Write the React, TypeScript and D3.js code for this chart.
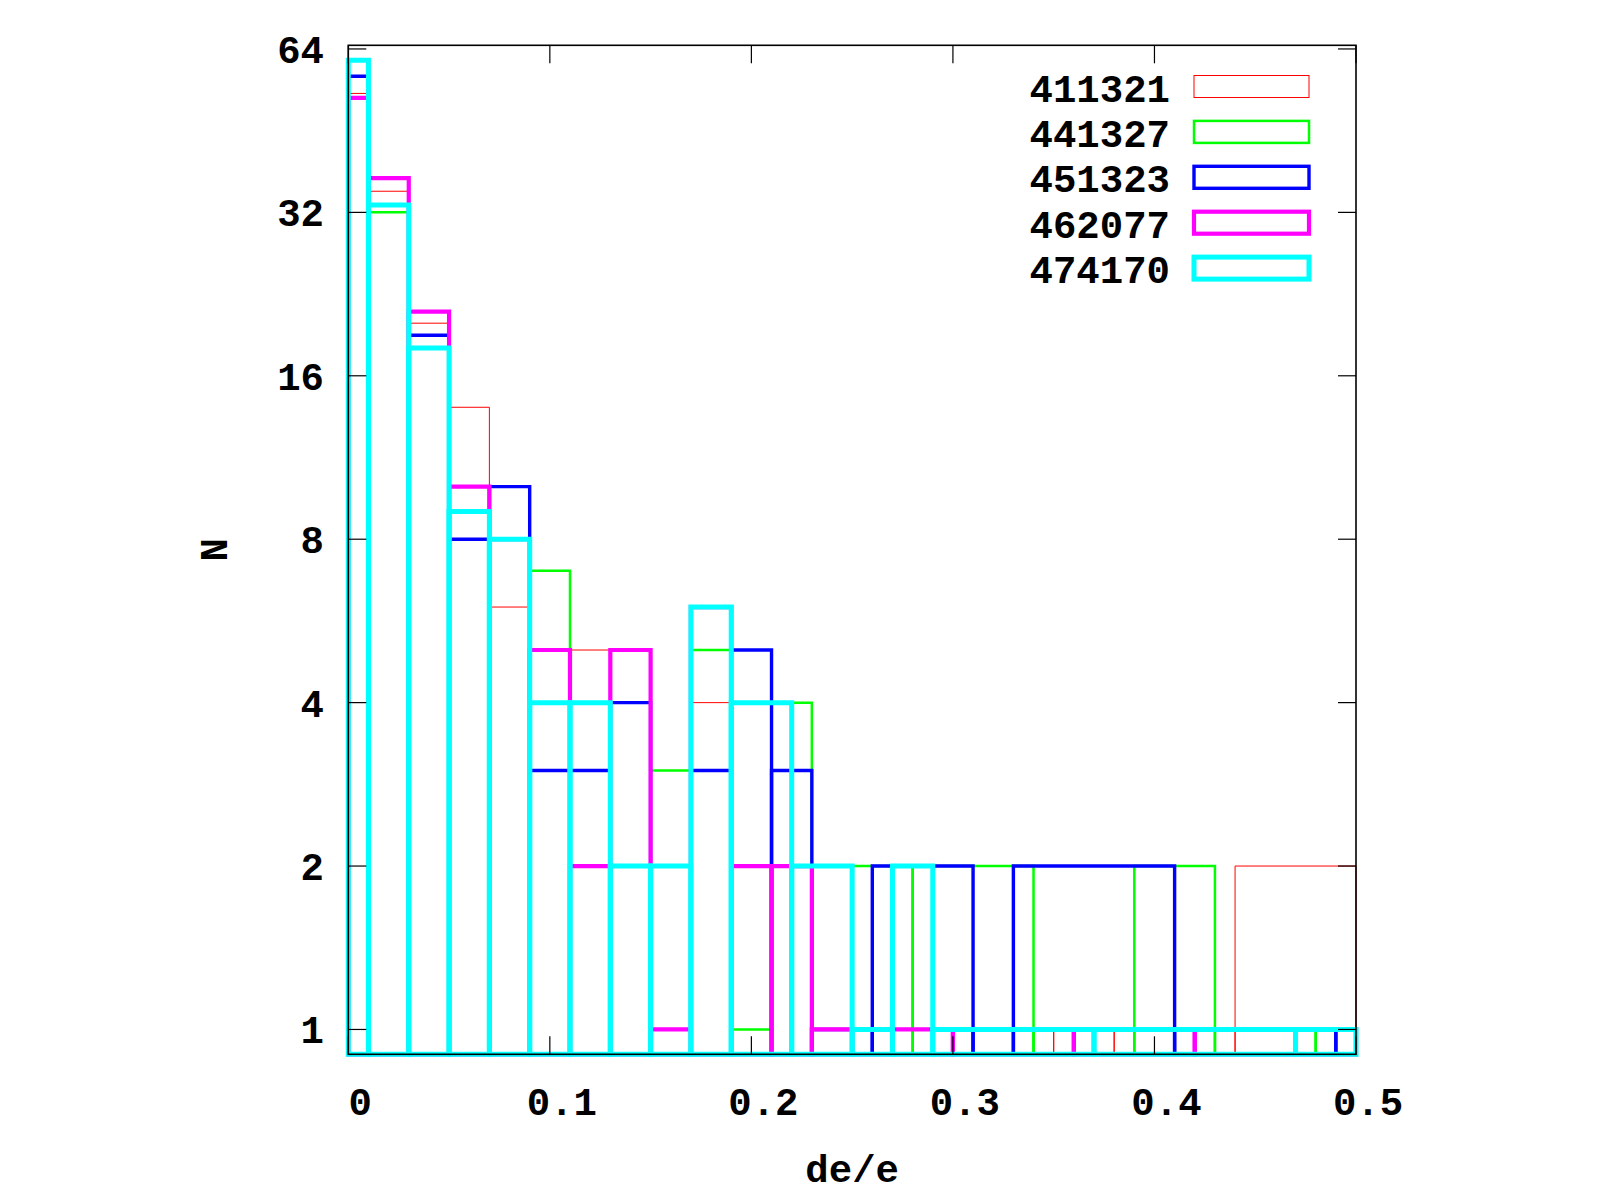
import React, { useEffect, useRef } from "react";
import * as d3 from "d3";

// Histogram of de/e per run. Only non-empty bins are listed, so boxes next to
// a gap get stretched until they touch (same as gnuplot "with boxes").
const run411321X = [0, 0.02, 0.04, 0.06, 0.08, 0.1, 0.12, 0.14, 0.16, 0.18, 0.2, 0.22, 0.24, 0.26, 0.28, 0.3, 0.32, 0.34, 0.36, 0.4, 0.48];
const run411321N = [53, 35, 20, 14, 6, 5, 5, 4, 3, 4, 4, 4, 2, 1, 2, 1, 1, 1, 1, 1, 2];

const run441327X = [0, 0.02, 0.04, 0.06, 0.08, 0.1, 0.12, 0.14, 0.16, 0.18, 0.2, 0.22, 0.24, 0.32, 0.36, 0.42, 0.44, 0.52];
const run441327N = [57, 32, 18, 9, 8, 7, 4, 4, 3, 5, 1, 4, 2, 2, 1, 2, 1, 1];

const run451323X = [0, 0.02, 0.04, 0.06, 0.08, 0.1, 0.12, 0.14, 0.16, 0.18, 0.2, 0.22, 0.24, 0.28, 0.3, 0.32, 0.34, 0.48, 0.5];
const run451323N = [57, 33, 19, 8, 10, 3, 3, 4, 2, 3, 5, 3, 1, 2, 2, 1, 2, 1, 1];

const run462077X = [0, 0.02, 0.04, 0.06, 0.08, 0.1, 0.12, 0.14, 0.16, 0.18, 0.2, 0.22, 0.24, 0.26, 0.28, 0.32, 0.4, 0.44, 0.5];
const run462077N = [52, 37, 21, 10, 8, 5, 2, 5, 1, 6, 2, 2, 1, 1, 1, 1, 1, 1, 1];

const run474170X = [0, 0.02, 0.04, 0.06, 0.08, 0.1, 0.12, 0.14, 0.16, 0.18, 0.2, 0.24, 0.26, 0.28, 0.3, 0.44, 0.5];
const run474170N = [61, 33, 18, 9, 8, 4, 4, 2, 2, 6, 4, 2, 1, 2, 1, 1, 1];

const xTicks = [0, 0.1, 0.2, 0.3, 0.4, 0.5];
const xTickLabels = ["0", "0.1", "0.2", "0.3", "0.4", "0.5"];
const yTicks = [1, 2, 4, 8, 16, 32, 64];

const series = [
  { label: "411321", xs: run411321X, ns: run411321N, color: "#ff0000", width: 1 },
  { label: "441327", xs: run441327X, ns: run441327N, color: "#00ff00", width: 2.5 },
  { label: "451323", xs: run451323X, ns: run451323N, color: "#0000ff", width: 3.4 },
  { label: "462077", xs: run462077X, ns: run462077N, color: "#ff00ff", width: 4.2 },
  { label: "474170", xs: run474170X, ns: run474170N, color: "#00ffff", width: 5 },
];

const FONT = "'Liberation Mono', 'DejaVu Sans Mono', monospace";

// box edges halfway to the neighbouring points
function boxEdges(xs: number[], ns: number[]) {
  return xs.map((c, i) => {
    const left = i > 0 ? (xs[i - 1] + c) / 2 : c - (xs[1] - c) / 2;
    const right = i < xs.length - 1 ? (c + xs[i + 1]) / 2 : c + (c - xs[i - 1]) / 2;
    return { left, right, n: ns[i] };
  });
}

export default function App() {
  const ref = useRef<SVGSVGElement>(null);

  useEffect(() => {
    if (!ref.current) return;
    const svg = d3.select(ref.current);
    svg.selectAll("*").remove();

    const left = 348.3;
    const right = 1356;
    const top = 45.3;
    const bottom = 1054.3;

    const x = d3.scaleLinear().domain([0, 0.5]).range([left, right]);
    const y = d3.scaleLog().base(2).domain([0.9, 65]).range([bottom, top]);
    const [x0, x1] = x.domain();
    const [y0, y1] = y.domain();

    // boxes, thin lines first so the thick ones end up on top
    series.forEach((s) => {
      const g = svg.append("g");
      boxEdges(s.xs, s.ns).forEach((b) => {
        const l = Math.max(b.left, x0);
        const r = Math.min(b.right, x1);
        if (l >= r) return;
        const t = Math.min(b.n, y1);
        const p = d3.path();
        p.moveTo(x(l), y(y0));
        p.lineTo(x(l), y(t));
        p.lineTo(x(r), y(t));
        p.lineTo(x(r), y(y0));
        p.closePath();
        g.append("path")
          .attr("d", p.toString())
          .attr("fill", "none")
          .attr("stroke", s.color)
          .attr("stroke-width", s.width)
          .attr("stroke-linejoin", "miter");
      });
    });

    // ticks, inward on all four sides
    const tickLen = 18;
    const axes = svg.append("g").attr("stroke", "#000").attr("stroke-width", 1.2);
    yTicks.forEach((v) => {
      axes.append("line").attr("x1", left).attr("x2", left + tickLen).attr("y1", y(v)).attr("y2", y(v));
      axes.append("line").attr("x1", right).attr("x2", right - tickLen).attr("y1", y(v)).attr("y2", y(v));
    });
    xTicks.forEach((v) => {
      axes.append("line").attr("x1", x(v)).attr("x2", x(v)).attr("y1", bottom).attr("y2", bottom - tickLen);
      axes.append("line").attr("x1", x(v)).attr("x2", x(v)).attr("y1", top).attr("y2", top + tickLen);
    });

    svg.append("rect")
      .attr("x", left)
      .attr("y", top)
      .attr("width", right - left)
      .attr("height", bottom - top)
      .attr("fill", "none")
      .attr("stroke", "#000")
      .attr("stroke-width", 1.6);

    const text = svg.append("g")
      .attr("font-family", FONT)
      .attr("font-weight", "bold")
      .attr("font-size", 39)
      .attr("fill", "#000");

    yTicks.forEach((v) => {
      text.append("text")
        .attr("x", 324)
        .attr("y", y(v) + 14)
        .attr("text-anchor", "end")
        .text(String(v));
    });

    xTicks.forEach((v, i) => {
      text.append("text")
        .attr("x", x(v) + 12)
        .attr("y", 1115)
        .attr("text-anchor", "middle")
        .text(xTickLabels[i]);
    });

    text.append("text")
      .attr("x", (left + right) / 2)
      .attr("y", 1182)
      .attr("text-anchor", "middle")
      .text("de/e");

    text.append("text")
      .attr("transform", `translate(227, ${(top + bottom) / 2}) rotate(-90)`)
      .attr("text-anchor", "middle")
      .text("N");

    // key
    const rowY = 86.5;
    const rowStep = 45.4;
    series.forEach((s, i) => {
      const cy = rowY + i * rowStep;
      text.append("text")
        .attr("x", 1170)
        .attr("y", cy + 15)
        .attr("text-anchor", "end")
        .text(s.label);
      svg.append("rect")
        .attr("x", 1194)
        .attr("y", cy - 11)
        .attr("width", 115)
        .attr("height", 22)
        .attr("fill", "none")
        .attr("stroke", s.color)
        .attr("stroke-width", s.width);
    });
  }, []);

  return (
    <svg
      ref={ref}
      width={1600}
      height={1200}
      style={{ position: "absolute", left: 0, top: 0, background: "#fff" }}
    />
  );
}
